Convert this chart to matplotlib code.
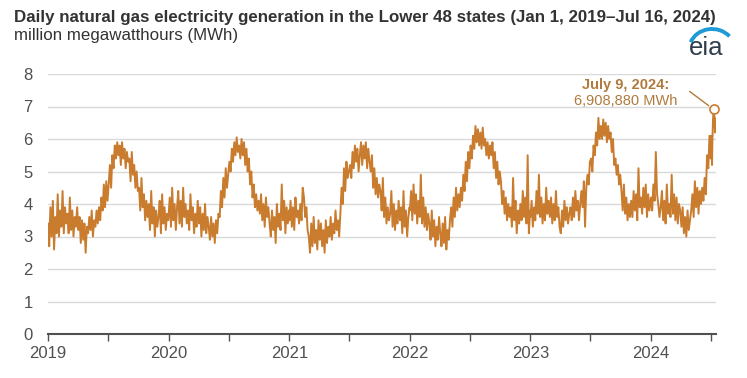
import matplotlib
matplotlib.use("Agg")
import matplotlib.pyplot as plt
import matplotlib.dates as mdates
from matplotlib.patches import Arc
import pandas as pd

# twice-weekly readings (million MWh), Jan -> Dec
gen_2019 = [3.4, 2.7, 3.9, 3.0, 4.1, 2.6, 3.6, 3.1,
            4.3, 3.0, 3.8, 3.3, 4.4, 3.1, 3.9, 3.4,
            3.7, 3.1, 4.2, 3.2, 3.8, 3.0, 3.6, 3.3, 3.9,
            3.2, 3.6, 2.8, 3.5, 2.9, 3.4, 2.5, 3.3,
            3.1, 3.6, 3.2, 3.8, 3.0, 3.5, 3.3, 3.8, 3.4,
            3.9, 3.5, 4.2, 3.8, 4.6, 3.9, 4.7, 4.1,
            4.6, 5.2, 4.5, 5.5, 5.1, 5.8, 5.4, 5.9,
            5.5, 5.8, 5.2, 5.9, 5.4, 5.7, 5.1, 5.6, 5.3,
            5.4, 4.7, 5.6, 4.9, 5.2, 4.5, 5.0, 4.4,
            4.5, 3.8, 4.8, 3.9, 4.3, 3.5, 4.1, 3.6,
            4.0, 3.2, 4.4, 3.4, 3.9, 3.0, 3.8, 3.3,
            3.6, 4.1, 3.1, 4.3, 3.4, 3.9, 3.2, 3.7, 3.5]
gen_2020 = [3.6, 4.2, 3.3, 4.5, 3.5, 4.0, 3.2, 3.9,
            4.4, 3.4, 4.1, 3.3, 4.5, 3.6, 4.0, 3.4,
            3.8, 3.2, 4.3, 3.5, 3.9, 3.1, 3.7, 3.3, 4.1,
            3.4, 3.9, 3.0, 3.7, 3.2, 4.0, 3.1, 3.6,
            3.3, 2.9, 3.6, 3.0, 3.4, 2.8, 3.5, 3.1, 3.7,
            3.6, 4.4, 3.9, 4.8, 4.2, 5.1, 4.5, 4.9,
            5.3, 5.0, 5.7, 5.3, 5.9, 5.5, 6.05, 5.6,
            5.8, 5.4, 6.0, 5.5, 5.9, 5.2, 5.7, 5.0, 5.4,
            4.6, 5.0, 4.2, 4.6, 3.9, 4.3, 3.8, 4.1,
            3.7, 4.3, 3.5, 4.0, 3.3, 4.2, 3.6, 3.9,
            3.4, 3.0, 3.8, 3.2, 3.6, 2.8, 4.0, 3.3,
            3.7, 3.2, 4.6, 3.5, 4.1, 3.1, 3.9, 3.4, 3.8]
gen_2021 = [3.5, 4.1, 3.3, 3.9, 3.2, 4.2, 3.6, 3.8,
            3.4, 4.0, 3.5, 4.5, 4.2, 3.6, 3.9, 3.2,
            3.0, 2.5, 3.4, 2.7, 3.6, 2.8, 3.2, 2.6, 3.5,
            2.9, 3.4, 2.7, 3.2, 2.5, 3.5, 2.8, 3.3,
            3.0, 3.6, 2.9, 3.4, 3.1, 3.8, 3.2, 3.5, 3.0,
            3.7, 4.5, 4.0, 5.1, 4.4, 5.3, 4.8, 5.0,
            5.2, 4.8, 5.6, 5.1, 5.8, 5.3, 5.7, 5.0,
            5.5, 5.9, 5.2, 5.8, 5.4, 5.9, 5.1, 5.7, 5.3,
            5.0, 5.5, 4.5, 5.1, 4.3, 4.8, 4.2, 4.6,
            4.4, 3.8, 4.8, 3.6, 4.2, 3.4, 3.9, 3.5,
            3.7, 4.4, 3.3, 4.0, 3.2, 3.8, 3.4, 4.1,
            3.5, 3.9, 3.1, 4.4, 3.3, 3.8, 3.0, 3.6, 3.9]
gen_2022 = [3.8, 4.4, 3.5, 4.6, 3.7, 4.3, 3.4, 4.1,
            3.6, 4.9, 3.4, 4.2, 3.3, 3.9, 3.2, 3.7,
            3.4, 2.9, 3.8, 3.0, 3.5, 2.7, 3.3, 2.9, 3.6,
            3.1, 2.7, 3.4, 2.8, 3.6, 2.6, 3.2, 2.9,
            3.5, 3.9, 3.3, 4.2, 3.6, 4.5, 3.8, 4.3, 3.9,
            4.5, 4.1, 4.9, 4.4, 5.3, 4.7, 5.6, 5.1,
            5.8, 5.4, 6.1, 5.7, 6.4, 5.9, 6.3, 5.8,
            6.2, 5.7, 6.35, 5.8, 6.0, 5.5, 5.9, 5.4, 5.8,
            5.5, 5.9, 5.1, 5.6, 4.8, 5.3, 4.6, 5.0,
            4.7, 4.0, 4.4, 3.7, 4.2, 3.5, 4.0, 3.6,
            3.9, 3.3, 4.8, 3.5, 4.1, 3.1, 3.8, 3.4,
            4.0, 3.5, 4.4, 3.6, 4.2, 3.4, 5.5, 3.1, 3.8]
gen_2023 = [3.6, 4.1, 3.3, 3.9, 3.5, 4.4, 3.7, 4.9,
            3.6, 4.2, 3.4, 4.0, 3.5, 4.5, 3.7, 4.1,
            3.6, 4.2, 3.4, 4.0, 3.5, 4.4, 3.6, 3.9, 3.3,
            3.1, 3.8, 3.3, 4.1, 3.5, 3.9, 3.4, 3.7,
            3.9, 3.5, 4.2, 3.6, 4.4, 3.8, 4.1, 3.5, 4.0,
            4.4, 3.9, 4.7, 3.3, 4.5, 4.9, 4.6, 5.3,
            5.4, 5.0, 5.8, 5.5, 6.2, 5.8, 6.65, 6.0,
            6.4, 6.0, 6.6, 6.1, 6.5, 5.9, 6.4, 6.0, 6.2,
            5.6, 6.0, 5.2, 5.4, 4.9, 5.2, 4.6, 4.9,
            4.4, 3.8, 4.6, 3.7, 4.2, 3.5, 4.0, 3.6,
            4.1, 3.6, 4.4, 3.8, 4.3, 3.5, 5.1, 3.9,
            4.2, 3.7, 4.5, 3.9, 4.6, 3.6, 4.3, 3.8, 4.1]
# Jan -> Jun 2024
gen_2024 = [4.2, 3.8, 4.6, 4.1, 5.6, 4.3, 4.0, 3.6,
            3.9, 4.4, 3.5, 4.1, 3.4, 4.6, 3.7, 4.0,
            3.6, 4.9, 3.7, 4.3, 3.5, 4.2, 3.4, 4.0, 3.8,
            3.3, 3.9, 3.1, 3.6, 3.0, 3.8, 3.2, 3.5,
            3.8, 4.3, 3.6, 4.7, 3.9, 4.5, 3.7, 4.4, 4.0,
            4.5, 4.1, 4.8, 4.3, 5.5, 5.1, 6.1, 5.4]
# daily readings, July 1-16, 2024
gen_jul_2024 = [5.8, 6.1, 5.6, 5.2, 5.9, 6.3, 6.6, 6.7, 6.908880, 6.5, 6.7,
                6.4, 6.2, 6.5, 6.6, 6.3]

peak_date = pd.Timestamp("2024-07-09")
peak_val = 6.908880

# place each year's readings evenly through that year
dates, vals = [], []
for yr, v in zip([2019, 2020, 2021, 2022, 2023],
                 [gen_2019, gen_2020, gen_2021, gen_2022, gen_2023]):
    dates += list(pd.date_range(f"{yr}-01-01", f"{yr}-12-31", periods=len(v)))
    vals += v
dates += list(pd.date_range("2024-01-01", "2024-06-30", periods=len(gen_2024)))
vals += gen_2024
dates += list(pd.date_range("2024-07-01", periods=len(gen_jul_2024), freq="D"))
vals += gen_jul_2024

ORANGE = "#c97b2e"
TXT = "#b07a3c"
W, H = 747, 378

plt.rcParams["font.family"] = ["Liberation Sans", "DejaVu Sans"]
fig = plt.figure(figsize=(W / 100, H / 100), dpi=100)
ax = fig.add_axes([48 / W, (H - 334) / H, (716 - 48) / W, (334 - 74) / H])

ax.plot(dates, vals, color=ORANGE, lw=1.4)
ax.plot([peak_date], [peak_val], "o", ms=6.5, mfc="white", mec=ORANGE, mew=1.2,
        zorder=5, clip_on=False)
ax.annotate("", xy=(peak_date, peak_val), xytext=(-24, 18),
            textcoords="offset pixels",
            arrowprops=dict(arrowstyle="-", color=TXT, lw=1, shrinkA=0, shrinkB=4.5))

ax.set_ylim(0, 8)
ax.set_xlim(pd.Timestamp("2019-01-01"), pd.Timestamp("2024-07-16"))
ax.set_yticks(range(0, 9))
ax.grid(axis="y", color="#d9d9d9", lw=1)
ax.set_axisbelow(True)
for s in ["top", "right", "left"]:
    ax.spines[s].set_visible(False)
ax.spines["bottom"].set_color("#505050")
ax.spines["bottom"].set_linewidth(1.5)

ax.xaxis.set_major_locator(mdates.YearLocator())
ax.xaxis.set_major_formatter(mdates.DateFormatter("%Y"))
ax.xaxis.set_minor_locator(mdates.MonthLocator(bymonth=7))
ax.tick_params(axis="x", which="both", length=5, width=1, color="#505050",
               labelsize=12, labelcolor="#505050", pad=4)
ax.tick_params(axis="y", length=0, labelsize=12, labelcolor="#505050", pad=11)

# overlay in pixel units for title, logo and callout text
ov = fig.add_axes([0, 0, 1, 1], facecolor="none")
ov.set_xlim(0, W)
ov.set_ylim(H, 0)
ov.axis("off")
ov.text(14, 21.7, "Daily natural gas electricity generation in the Lower 48 states (Jan 1, 2019\u2013Jul 16, 2024)",
        fontsize=12.2, fontweight="bold", color="#333333", va="baseline")
ov.text(14, 40, "million megawatthours (MWh)", fontsize=12.2, color="#333333", va="baseline")
ov.text(626, 88.5, "July 9, 2024:", fontsize=10.5, fontweight="bold", color=TXT,
        ha="center", va="baseline")
ov.text(626, 105, "6,908,880 MWh", fontsize=10.5, color=TXT, ha="center", va="baseline")

# eia logo
ov.text(706, 55, "eia", fontsize=18.5, color="#2f3d4b", ha="center", va="baseline")
ov.add_patch(Arc((712, 50), 46, 42, theta1=200, theta2=322, color="#1e9bd7", lw=2.8))

fig.savefig("out.png", dpi=100)
